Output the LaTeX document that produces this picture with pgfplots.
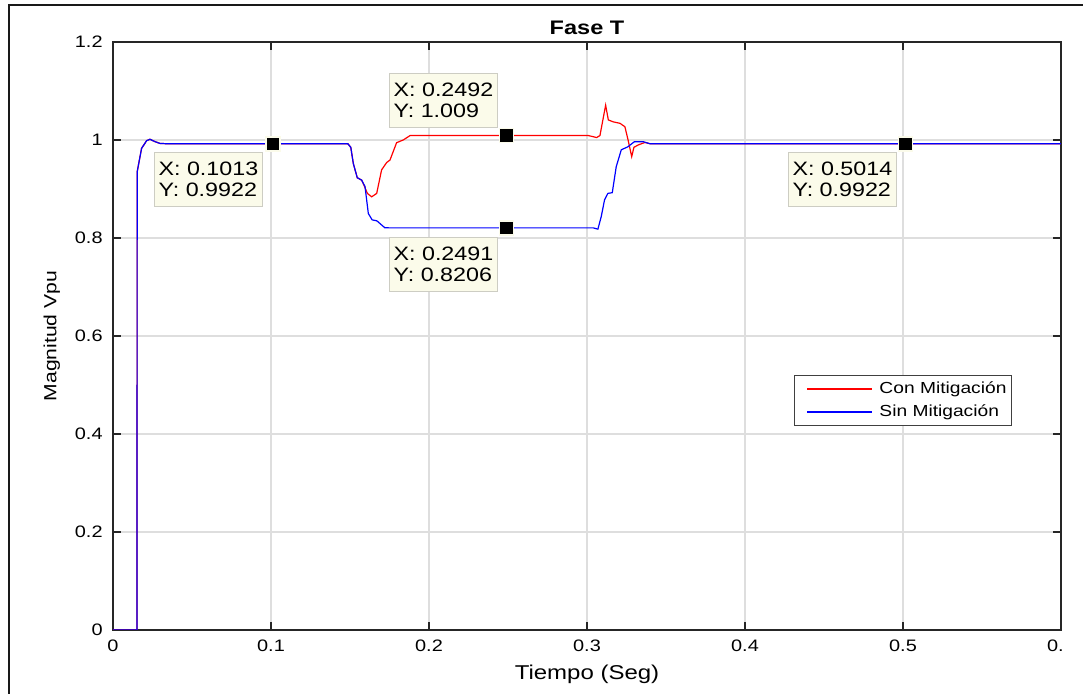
\documentclass[border=0pt]{standalone}
\usepackage{fontspec}
\setmainfont{Liberation Sans}[FakeStretch=1.2]
\usepackage{pgfplots}
\pgfplotsset{compat=1.18}
\definecolor{tipfill}{RGB}{251,251,234}
\definecolor{tipdraw}{RGB}{205,205,195}
\definecolor{gridc}{RGB}{222,222,222}
\definecolor{mblue}{RGB}{0,0,255}
\definecolor{mred}{RGB}{255,0,0}

\tikzset{tip/.style={draw=tipdraw, fill=tipfill, line width=0.6pt, anchor=north west,
  minimum width=53.5pt, minimum height=27pt, align=left, inner xsep=2pt,
  font=\fontsize{9.7}{10.7}\selectfont}}

\begin{document}
\begin{tikzpicture}
\useasboundingbox (0,0) rectangle (541.5pt,347pt);
\draw[line width=1pt, black!90] (4.25pt,-5pt) -- (4.25pt,344.25pt) -- (560pt,344.25pt);
\begin{axis}[
    at={(56.5pt,32pt)}, anchor=south west,
    scale only axis, width=474pt, height=294pt,
    xmin=0, xmax=0.6, ymin=0, ymax=1.2,
    xtick={0,0.1,0.2,0.3,0.4,0.5,0.6},
    xticklabels={0,0.1,0.2,0.3,0.4,0.5,0.\phantom{6}},
    ytick={0,0.2,0.4,0.6,0.8,1,1.2},
    /pgf/number format/assume math mode=true,
    axis line style={black!85, line width=0.75pt},
    tick style={black!85, line width=0.75pt},
    major tick length=4pt, tick align=inside,
    grid=major, grid style={gridc, line width=0.75pt},
    tick label style={font=\fontsize{8.3}{10}\selectfont, inner sep=0pt},
    xticklabel style={anchor=base, yshift=-11pt},
    yticklabel style={anchor=east, xshift=-5pt},
    title={\textbf{Fase T}},
    title style={at={(axis description cs:0.5,1)}, anchor=base, yshift=-2.5pt, font=\fontsize{9.8}{11}\selectfont},
    xlabel={Tiempo (Seg)},
    xlabel style={at={(axis description cs:0.5,0)}, anchor=base, yshift=-25pt, font=\fontsize{10}{12}\selectfont},
    ylabel={Magnitud Vpu},
    ylabel style={at={(axis description cs:-0.0644,0.5)}, anchor=center, font=\fontsize{8.8}{10}\selectfont},
    legend style={at={(axis cs:0.431,0.5204)}, anchor=north west, draw=black!75, line width=0.5pt,
      fill=white, font=\fontsize{8}{10}\selectfont, inner xsep=0.5pt, inner ysep=1pt},
    legend cell align=left,
    legend image code/.code={\path[draw=none] (0pt,0pt) -- (40pt,0pt);
      \draw[#1, line width=0.9pt] (6pt,0pt) -- (38.5pt,0pt);},
  ]
  \addplot[color=mred, line width=0.6pt] coordinates {
    (0,0) (0.0152,0) (0.0153,0.935) (0.0181,0.983) (0.0213,0.9986) (0.0234,1.0014)
    (0.0266,0.9966) (0.0297,0.993) (0.035,0.9922) (0.1487,0.9922) (0.1505,0.985)
    (0.1521,0.952) (0.1546,0.923) (0.1574,0.918) (0.1592,0.905) (0.161,0.891)
    (0.1637,0.884) (0.1669,0.891) (0.170,0.939) (0.1732,0.954) (0.1753,0.959)
    (0.1795,0.9945) (0.1837,1.0) (0.188,1.009) (0.3009,1.009) (0.3061,1.005)
    (0.3082,1.009) (0.3118,1.071) (0.3135,1.041) (0.3166,1.037) (0.3209,1.034)
    (0.324,1.027) (0.326,1.0) (0.3283,0.966) (0.3297,0.985) (0.3325,0.990)
    (0.3367,0.995) (0.34,0.9922) (0.6,0.9922)
  };
  \addplot[color=mblue, line width=0.6pt] coordinates {
    (0,0) (0.0152,0) (0.0153,0.935) (0.0181,0.983) (0.0213,0.9986) (0.0234,1.0014)
    (0.0266,0.9966) (0.0297,0.993) (0.035,0.9922) (0.1487,0.9922) (0.1505,0.985)
    (0.1521,0.952) (0.1546,0.923) (0.1574,0.918) (0.1595,0.905) (0.1616,0.850)
    (0.164,0.837) (0.167,0.835) (0.172,0.821) (0.175,0.8206) (0.304,0.8206)
    (0.3069,0.818) (0.309,0.8435) (0.3111,0.8776) (0.3132,0.891) (0.316,0.8925)
    (0.3185,0.9455) (0.3217,0.98) (0.3258,0.986) (0.330,0.9965) (0.3356,0.9965)
    (0.34,0.9922) (0.6,0.9922)
  };
  \legend{Con Mitigación, Sin Mitigación}
  \addplot[forget plot, only marks, mark=square*, mark size=3.5pt,
    mark options={fill=black, draw=tipfill, line width=0.7pt}] coordinates {
    (0.1013,0.9922) (0.2492,1.009) (0.2491,0.8206) (0.5014,0.9922)
  };
  \node[tip] at (axis cs:0.02595,0.9755) {X: 0.1013\\Y: 0.9922};
  \node[tip] at (axis cs:0.1747,1.1367) {X: 0.2492\\Y: 1.009};
  \node[tip] at (axis cs:0.1747,0.8020) {X: 0.2491\\Y: 0.8206};
  \node[tip] at (axis cs:0.4272,0.9755) {X: 0.5014\\Y: 0.9922};
\end{axis}
\end{tikzpicture}
\end{document}
